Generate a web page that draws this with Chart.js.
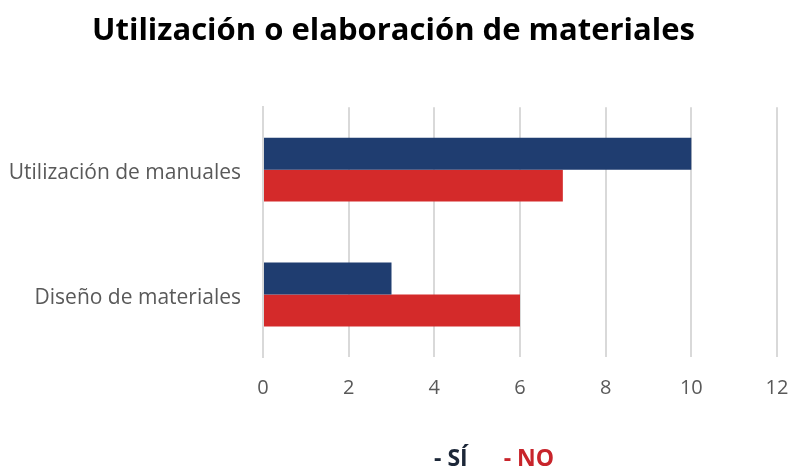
<!DOCTYPE html>
<html>
<head>
<meta charset="utf-8">
<script src="https://cdn.jsdelivr.net/npm/chart.js@4.4.1/dist/chart.umd.min.js"></script>
<style>
  html, body { margin: 0; padding: 0; background: #ffffff; }
  #wrap { width: 790px; height: 468px; }
</style>
</head>
<body>
<div id="wrap"><canvas id="c" width="790" height="468"></canvas></div>
<script>
const categories = ['Utilización de manuales', 'Diseño de materiales'];
const seriesNames = ['SÍ', 'NO'];
const valuesSi = [10, 3];
const valuesNo = [7, 6];
const xTicks = [0, 2, 4, 6, 8, 10, 12];

const colorSi = '#1f3d70';
const colorNo = '#d42a2a';
const legendTextColors = ['#1c2738', '#c8242b'];

// Text-only legend ("- SÍ   - NO") drawn under the axis, offset right of centre.
const dashLegend = {
  id: 'dashLegend',
  afterDraw(chart, args, opts) {
    const c = chart.ctx;
    c.save();
    c.font = 'bold 23px "Open Sans"';
    c.textAlign = 'left';
    c.textBaseline = 'alphabetic';
    let x = opts.startX;
    chart.data.datasets.forEach((ds, i) => {
      const t = '- ' + ds.label;
      c.fillStyle = legendTextColors[i];
      c.fillText(t, x, opts.baseline);
      x += c.measureText(t).width + opts.gap;
    });
    c.restore();
  }
};

const ctx = document.getElementById('c').getContext('2d');
new Chart(ctx, {
  type: 'bar',
  data: {
    labels: categories,
    datasets: [
      { label: seriesNames[0], data: valuesSi, backgroundColor: colorSi, borderWidth: 0,
        categoryPercentage: 0.512, barPercentage: 1.0 },
      { label: seriesNames[1], data: valuesNo, backgroundColor: colorNo, borderWidth: 0,
        categoryPercentage: 0.512, barPercentage: 1.0 }
    ]
  },
  plugins: [dashLegend],
  options: {
    indexAxis: 'y',
    responsive: false,
    animation: false,
    layout: { padding: { left: 10, right: 13, top: 0, bottom: 61 } },
    plugins: {
      title: {
        display: true,
        text: 'Utilización o elaboración de materiales',
        color: '#000000',
        font: { family: 'Open Sans', size: 31, weight: 'bold' },
        padding: { top: 13, bottom: 57 }
      },
      legend: { display: false },
      dashLegend: { startX: 434, baseline: 466, gap: 36 },
      tooltip: { enabled: false }
    },
    scales: {
      x: {
        min: 0,
        max: 12,
        afterBuildTicks(axis) { axis.ticks = xTicks.map(v => ({ value: v })); },
        grid: { color: '#d9d9d9', lineWidth: 2, drawTicks: true, tickLength: 19, tickColor: 'rgba(0,0,0,0)' },
        border: { display: false },
        ticks: { color: '#595959', font: { family: 'Open Sans', size: 20 }, padding: 0 },
        afterFit(axis) { axis.height = 50; }
      },
      y: {
        grid: { display: false, drawTicks: false },
        border: { display: true, color: '#d9d9d9', width: 2 },
        ticks: { color: '#595959', font: { family: 'Open Sans', size: 21 }, padding: 22, labelOffset: 3 },
        afterFit(axis) { axis.width = 253; }
      }
    }
  }
});
</script>
</body>
</html>
